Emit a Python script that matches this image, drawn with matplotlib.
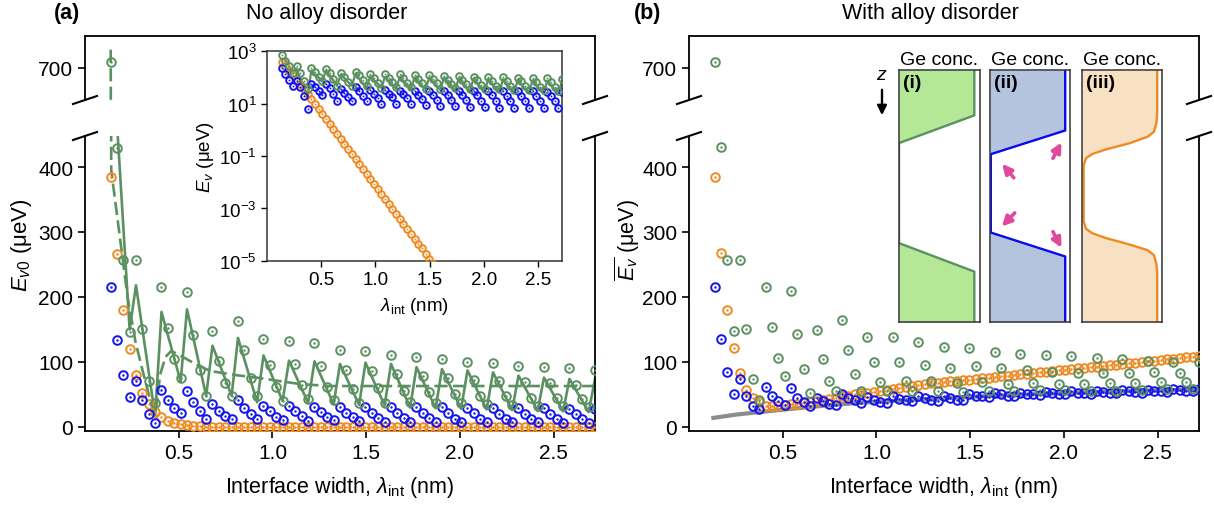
import numpy as np
import matplotlib
matplotlib.use('Agg')
import matplotlib.pyplot as plt
from matplotlib.lines import Line2D

plt.rcParams['font.family'] = ['Liberation Sans', 'DejaVu Sans']
plt.rcParams['mathtext.fontset'] = 'custom'
plt.rcParams['mathtext.rm'] = 'Liberation Sans'
plt.rcParams['mathtext.it'] = 'Liberation Sans:italic'
plt.rcParams['mathtext.bf'] = 'Liberation Sans:bold'

# interface widths (nm)
lam = [0.136, 0.170, 0.204, 0.238, 0.272, 0.306, 0.340, 0.374, 0.408, 0.442,
       0.476, 0.510, 0.544, 0.578, 0.612, 0.646, 0.680, 0.714, 0.748, 0.782,
       0.816, 0.850, 0.884, 0.918, 0.952, 0.986, 1.020, 1.054, 1.088, 1.122,
       1.156, 1.190, 1.224, 1.258, 1.292, 1.326, 1.360, 1.394, 1.428, 1.462,
       1.496, 1.530, 1.564, 1.598, 1.632, 1.666, 1.700, 1.734, 1.768, 1.802,
       1.836, 1.870, 1.904, 1.938, 1.972, 2.006, 2.040, 2.074, 2.108, 2.142,
       2.176, 2.210, 2.244, 2.278, 2.312, 2.346, 2.380, 2.414, 2.448, 2.482,
       2.516, 2.550, 2.584, 2.618, 2.652, 2.686, 2.720]

# (a) no alloy disorder
ev0_green = [709, 430, 257, 146, 257, 151, 71, 37, 216, 152, 105, 75, 208, 142, 87, 48,
             147, 102, 68, 47, 163, 118, 76, 48, 136, 96, 61, 40, 133, 97, 65, 43,
             129, 94, 62, 41, 118, 87, 58, 37, 117, 86, 60, 37, 111, 81, 55, 38,
             108, 79, 54, 37, 104, 76, 51, 37, 100, 73, 48, 35, 98, 70, 47, 34,
             94, 69, 45, 33, 93, 67, 44, 32, 90, 65, 43, 31, 88]
ev0_blue = [216, 134, 80, 46, 70, 42, 20, 6, 57, 42, 29, 21, 55, 38, 24, 12,
            35, 25, 17, 12, 42, 29, 20, 12, 33, 24, 16, 10, 32, 24, 17, 9.5,
            30, 23, 16, 10, 30, 22, 15, 9, 30, 22, 14, 8, 30, 21, 14, 8,
            30, 21, 14, 7.5, 30, 21, 13, 7.5, 29, 21, 13, 7, 29, 20, 13, 7,
            29, 20, 13, 7, 29, 20, 13, 6.5, 28, 20, 12, 6.5, 28]
ev0_orange = [385, 266, 180, 120, 80, 53, 35, 23, 14.8, 9.5,
              6.2, 4.0, 2.6, 1.66, 1.07, 0.69, 0.45, 0.29, 0.19, 0.12,
              0.078, 0.050, 0.032, 0.021, 0.0135, 0.0087, 0.0056, 0.0036, 0.0023, 0.0015,
              9.8e-4, 6.3e-4, 4.1e-4, 2.6e-4, 1.7e-4, 1.1e-4, 7.1e-5, 4.6e-5, 3.0e-5, 1.9e-5,
              1.2e-5, 7.9e-6, 5.1e-6, 3.3e-6, 2.1e-6, 1.4e-6, 8.9e-7, 5.8e-7, 3.7e-7, 2.4e-7,
              1.6e-7, 1.0e-7, 6.5e-8, 4.2e-8, 2.7e-8, 1.8e-8, 1.1e-8, 7.4e-9, 4.8e-9, 3.1e-9,
              2.0e-9, 1.3e-9, 8.4e-10, 5.4e-10, 3.5e-10, 2.3e-10, 1.5e-10, 9.5e-11, 6.1e-11, 4.0e-11,
              2.6e-11, 1.7e-11, 1.1e-11, 7.0e-12, 4.5e-12, 2.9e-12, 1.9e-12]

# zigzag model line (vertices) and smoothed dashed line
zig_x = [0.170, 0.238, 0.272, 0.374, 0.408, 0.510, 0.544, 0.646, 0.680, 0.782,
         0.816, 0.918, 0.952, 1.054, 1.088, 1.190, 1.224, 1.326, 1.360, 1.462,
         1.496, 1.598, 1.632, 1.734, 1.768, 1.870, 1.904, 2.006, 2.040, 2.142,
         2.176, 2.278, 2.312, 2.414, 2.448, 2.550, 2.584, 2.686, 2.720]
zig_y = [470, 150, 218, 17, 177, 70, 181, 48, 125, 48,
         137, 38, 110, 40, 102, 37, 101, 35, 97, 34,
         99, 33, 97, 30, 92, 29, 89, 28, 87, 27,
         84, 26, 79, 25, 76, 24, 74, 23, 74]
avg_x = [0.137, 0.140, 0.227, 0.27, 0.30, 0.34, 0.37, 0.385, 0.40, 0.43, 0.46,
         0.52, 0.60, 0.67, 0.80, 0.94, 1.05, 1.15, 1.30, 1.50, 2.00, 2.72]
avg_y = [728, 395, 200, 130, 95, 50, 18, 40, 80, 108, 117,
         108, 95, 86, 80, 75, 70, 66, 63, 63, 63, 63]

# (b) with alloy disorder
ev_green = [709, 431, 257, 147, 257, 150, 74, 42, 216, 154, 106, 79, 209, 143, 89, 53,
            149, 105, 71, 55, 165, 119, 82, 56, 139, 100, 69, 55, 138, 100, 71, 55,
            131, 96, 71, 55, 123, 91, 67, 54, 122, 94, 69, 55, 115, 90, 66, 55,
            113, 87, 67, 57, 111, 85, 66, 57, 109, 83, 66, 56, 106, 83, 67, 56,
            104, 83, 68, 57, 102, 84, 69, 58, 100, 83, 69, 59, 100]
ev_blue = [216, 135, 84, 50, 74, 48, 33, 28, 62, 48, 40, 34, 60, 45, 38, 33,
           45, 40, 36, 34, 51, 45, 41, 37, 46, 41, 39, 37, 48, 43, 41, 40,
           48, 44, 42, 40, 47, 44, 42, 41, 51, 48, 47, 46, 53, 50, 48, 48,
           53, 51, 50, 49, 54, 52, 51, 50, 55, 53, 52, 51, 56, 54, 53, 52,
           57, 55, 54, 53, 57, 56, 55, 54, 58, 57, 56, 55, 59]
ev_orange = [384, 267, 180, 121, 83, 57, 45, 38, 33, 32, 33, 34, 35, 36, 37, 38,
             40, 42, 43, 45, 47, 48, 50, 52, 53, 54, 56, 57, 58, 60, 61, 63,
             64, 66, 67, 68, 69, 70, 71, 72, 73, 74, 75, 76, 77, 78, 79, 80,
             81, 82, 83, 84, 85, 86, 87, 88, 89, 90, 91, 92, 93, 94, 95, 96,
             97, 98, 99, 100, 101, 102, 103, 104, 105, 106, 107, 108, 109]
gray_x = [0.13, 0.25, 0.38, 0.55, 0.73, 0.90, 1.09, 1.40, 1.80, 2.20, 2.72]
gray_y = [14, 19, 23, 28, 33, 37, 40, 45, 50, 54, 58]

# Ge concentration sketches (conc, z)
prof_i_c = [0.93, 0.93, 0.0, 0.0, 0.93, 0.93]
prof_i_z = [0.0, 0.18, 0.29, 0.687, 0.80, 1.0]
prof_ii_c = [0.94, 0.94, 0.01, 0.01, 0.94, 0.94]
prof_ii_z = [0.0, 0.24, 0.334, 0.645, 0.74, 1.0]
prof_iii_c = [0.94, 0.94, 0.93, 0.90, 0.82, 0.60, 0.30, 0.13, 0.05, 0.02,
              0.02, 0.05, 0.13, 0.30, 0.60, 0.82, 0.90, 0.93, 0.94, 0.94]
prof_iii_z = [0.0, 0.17, 0.21, 0.245, 0.265, 0.29, 0.315, 0.333, 0.35, 0.38,
              0.60, 0.63, 0.648, 0.667, 0.693, 0.715, 0.735, 0.77, 0.81, 1.0]

GREEN = '#5b9060'
BLUE = '#1414ee'
ORANGE = '#ef8a22'

W, H = 1214, 510
fig = plt.figure(figsize=(W / 100, H / 100), dpi=100)


def box(x0, y0, x1, y1):
    return [x0 / W, 1 - y1 / H, (x1 - x0) / W, (y1 - y0) / H]


def rings(ax, x, y, color, ms=6.2, z=3):
    ax.plot(x, y, 'o', ms=ms, mfc='none', mec=color, mew=1.4, zorder=z)
    ax.plot(x, y, 'o', ms=ms * 0.28, mfc=color, mec='none', zorder=z)


def brk(xp, yp):
    fig.add_artist(Line2D([(xp - 12) / W, (xp + 12) / W],
                          [1 - (yp + 4) / H, 1 - (yp - 4) / H], color='k', lw=1.5))


def style_pair(top, bot, x0, x1):
    for a in (top, bot):
        a.set_xlim(0, 2.72)
        for s in a.spines.values():
            s.set_linewidth(1.3)
        a.tick_params(direction='out', length=5, width=1.2, labelsize=15)
    top.spines['bottom'].set_visible(False)
    bot.spines['top'].set_visible(False)
    top.set_ylim(651, 749)
    top.set_yticks([700])
    top.set_xticks([])
    bot.set_ylim(-6.2, 447.7)
    bot.set_yticks([0, 100, 200, 300, 400])
    bot.set_xticks([0.5, 1.0, 1.5, 2.0, 2.5])
    bot.set_xticklabels(['0.5', '1.0', '1.5', '2.0', '2.5'])
    bot.set_xlabel(r'Interface width, $\lambda_{\rm int}$ (nm)', fontsize=15.5, labelpad=9)
    for xp in (x0, x1):
        brk(xp, 101)
        brk(xp, 137)


axa_top = fig.add_axes(box(85, 37, 595, 101))
axa = fig.add_axes(box(85, 137, 595, 432))
axb_top = fig.add_axes(box(689, 37, 1199, 101))
axb = fig.add_axes(box(689, 137, 1199, 432))
style_pair(axa_top, axa, 85, 595)
style_pair(axb_top, axb, 689, 1199)

# panel (a)
for a in (axa_top, axa):
    a.plot(zig_x, zig_y, color=GREEN, lw=1.9, zorder=2)
    a.plot(avg_x, avg_y, color=GREEN, lw=1.9, dashes=(5, 2), zorder=2)
    rings(a, lam, ev0_orange, ORANGE)
    rings(a, lam, ev0_blue, BLUE)
    rings(a, lam, ev0_green, GREEN)

# panel (b)
for a in (axb_top, axb):
    a.plot(gray_x, gray_y, color='#808080', lw=3, alpha=0.9, zorder=1)
    rings(a, lam, ev_orange, ORANGE)
    rings(a, lam, ev_blue, BLUE)
    rings(a, lam, ev_green, GREEN)

fig.text(22 / W, 1 - 245 / H, r'$E_{v0}$ (μeV)', rotation=90, ha='center', va='center', fontsize=16)
fig.text(627 / W, 1 - 240 / H, r'$\overline{E_v}$ (μeV)', rotation=90, ha='center', va='center', fontsize=15.5)
fig.text(67 / W, 1 - 13 / H, '(a)', fontweight='bold', ha='center', va='center', fontsize=15.5)
fig.text(327 / W, 1 - 13 / H, 'No alloy disorder', ha='center', va='center', fontsize=15.5)
fig.text(648 / W, 1 - 13 / H, '(b)', fontweight='bold', ha='center', va='center', fontsize=15.5)
fig.text(930 / W, 1 - 13 / H, 'With alloy disorder', ha='center', va='center', fontsize=15.5)

# log inset in (a)
axi = fig.add_axes(box(267, 52, 562, 262))
axi.plot(zig_x, zig_y, color=GREEN, lw=1.6, zorder=2)
rings(axi, lam, ev0_orange, ORANGE, ms=4.8)
rings(axi, lam, ev0_blue, BLUE, ms=4.8)
rings(axi, lam, ev0_green, GREEN, ms=4.8)
axi.set_yscale('log')
axi.set_ylim(1e-5, 1e3)
axi.set_xlim(0, 2.72)
axi.set_yticks([1e-5, 1e-3, 1e-1, 1e1, 1e3])
axi.yaxis.set_minor_locator(matplotlib.ticker.NullLocator())
axi.set_xticks([0.5, 1.0, 1.5, 2.0, 2.5])
axi.set_xticklabels(['0.5', '1.0', '1.5', '2.0', '2.5'])
axi.tick_params(direction='out', length=4, width=1, labelsize=13.5)
for s in axi.spines.values():
    s.set_linewidth(1.1)
    s.set_color('#333333')
axi.set_ylabel(r'$E_v$ (μeV)', fontsize=13.5, labelpad=2)
axi.set_xlabel(r'$\lambda_{\rm int}$ (nm)', fontsize=13.5, labelpad=5)

# Ge concentration sketches in (b)
sketches = [
    ((899, 980), prof_i_c, prof_i_z, '#b4e896', '#5b9060', '(i)'),
    ((990, 1070), prof_ii_c, prof_ii_z, '#b4c4de', '#0a0aee', '(ii)'),
    ((1082, 1162), prof_iii_c, prof_iii_z, '#f8e1c3', '#ef8a22', '(iii)'),
]
for (x0, x1), c, z, fc, ec, tag in sketches:
    s = fig.add_axes(box(x0, 71, x1, 323))
    s.fill_betweenx(z, 0, c, color=fc, lw=0)
    s.plot(c, z, color=ec, lw=1.7)
    s.set_xlim(0, 1)
    s.set_ylim(1, 0)
    s.set_xticks([])
    s.set_yticks([])
    for sp in s.spines.values():
        sp.set_linewidth(1.1)
        sp.set_color('#333333')
    s.set_title('Ge conc.', fontsize=14, pad=4)
    s.text(0.05, 0.985, tag, transform=s.transAxes, ha='left', va='top',
           fontsize=14, fontweight='bold')
    if tag == '(ii)':
        for (xa, za), (xb, zb) in [((0.32, 0.436), (0.13, 0.364)), ((0.77, 0.36), (0.91, 0.278)),
                                   ((0.333, 0.559), (0.125, 0.629)), ((0.77, 0.632), (0.91, 0.715))]:
            s.annotate('', xy=(xb, zb), xytext=(xa, za),
                       arrowprops=dict(arrowstyle='-|>', color='#e0489c', lw=2.6, mutation_scale=14))

fig.text(882 / W, 1 - 76 / H, r'$z$', ha='center', va='center', fontsize=14)
fig.add_artist(matplotlib.patches.FancyArrowPatch((882 / W, 1 - 88 / H), (882 / W, 1 - 119 / H),
                                                  transform=fig.transFigure, arrowstyle='-|>',
                                                  mutation_scale=14, color='k', lw=1.7))

fig.savefig('out.png', dpi=100)
